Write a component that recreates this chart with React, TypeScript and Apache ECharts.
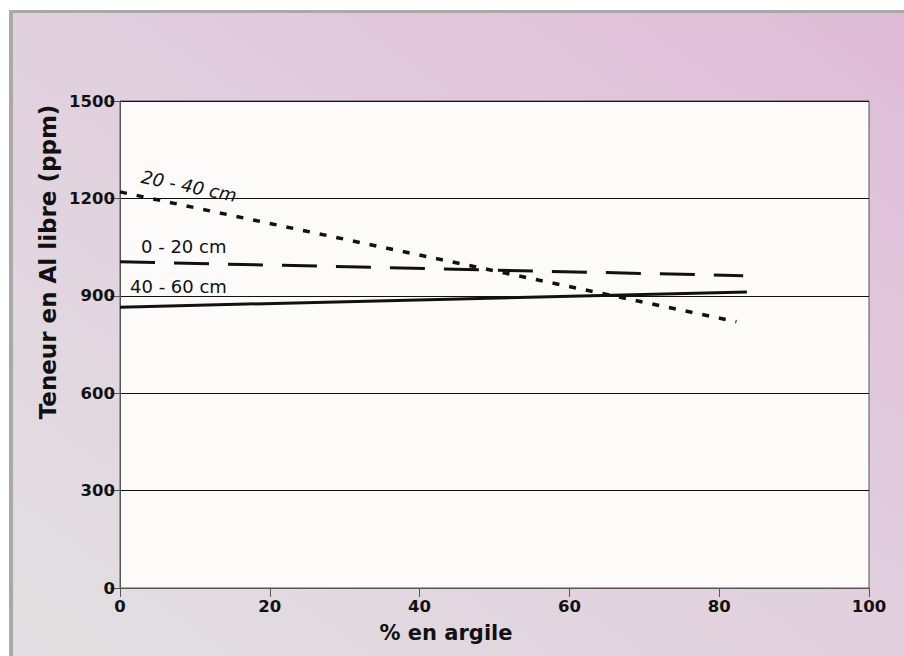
import React, { useEffect, useRef } from "react";
import * as echarts from "echarts";

const xTicks = [0, 20, 40, 60, 80, 100];
const yTicks = [0, 300, 600, 900, 1200, 1500];
const seriesNames = ["0 - 20 cm", "20 - 40 cm", "40 - 60 cm"];
const argile0_20 = [0, 83.2];
const teneur0_20 = [1005, 962];
const argile20_40 = [0, 82.3];
const teneur20_40 = [1220, 820];
const argile40_60 = [0, 83.7];
const teneur40_60 = [865, 912];

const FONT = "DejaVu Sans";

function pairs(xs: number[], ys: number[]) {
  return xs.map((x, i) => [x, ys[i]]);
}

export default function App() {
  const ref = useRef<HTMLDivElement>(null);
  useEffect(() => {
    if (!ref.current) return;
    const chart = echarts.init(ref.current, null, { renderer: "svg" });
    chart.setOption({
      animation: false,
      graphic: [
        {
          type: "rect",
          z: -10,
          shape: { x: 9, y: 10, width: 895, height: 646 },
          style: { fill: "#a9a9a9" },
          silent: true,
        },
        {
          type: "rect",
          z: -9,
          shape: { x: 13, y: 13, width: 891, height: 643 },
          style: {
            fill: new echarts.graphic.LinearGradient(0, 1, 1, 0, [
              { offset: 0, color: "#e1e0e1" },
              { offset: 0.5, color: "#e1d0de" },
              { offset: 1, color: "#dfbbd7" },
            ]),
          },
          silent: true,
        },
        {
          type: "text",
          x: 48,
          y: 262,
          rotation: Math.PI / 2,
          style: {
            text: "Teneur en Al libre (ppm)",
            font: `bold 23px "${FONT}"`,
            fill: "#111",
            align: "center",
            verticalAlign: "middle",
          },
        },
        {
          type: "text",
          x: 446,
          y: 633,
          style: {
            text: "% en argile",
            font: `bold 21px "${FONT}"`,
            fill: "#111",
            align: "center",
            verticalAlign: "middle",
          },
        },
        {
          type: "text",
          x: 189,
          y: 186,
          rotation: -0.2,
          style: {
            text: seriesNames[1],
            font: `italic 18px "${FONT}"`,
            fill: "#111",
            align: "center",
            verticalAlign: "middle",
          },
        },
        {
          type: "text",
          x: 141,
          y: 246,
          style: {
            text: seriesNames[0],
            font: `18px "${FONT}"`,
            fill: "#111",
            align: "left",
            verticalAlign: "middle",
          },
        },
        {
          type: "text",
          x: 130,
          y: 286,
          style: {
            text: seriesNames[2],
            font: `18px "${FONT}"`,
            fill: "#111",
            align: "left",
            verticalAlign: "middle",
          },
        },
      ],
      grid: {
        left: 120,
        top: 101,
        width: 749,
        height: 487,
        show: true,
        backgroundColor: "#fcfbfa",
        borderColor: "#555",
        borderWidth: 1,
      },
      xAxis: {
        type: "value",
        min: xTicks[0],
        max: xTicks[xTicks.length - 1],
        interval: 20,
        axisLine: { show: true, lineStyle: { color: "#555", width: 1 } },
        axisTick: { show: true, length: 9, lineStyle: { color: "#555" } },
        splitLine: { show: false },
        axisLabel: {
          margin: 10,
          color: "#111",
          fontFamily: FONT,
          fontWeight: "bold",
          fontSize: 16.5,
          formatter: (v: number) => String(v),
        },
      },
      yAxis: {
        type: "value",
        min: yTicks[0],
        max: yTicks[yTicks.length - 1],
        interval: 300,
        axisLine: { show: true, lineStyle: { color: "#555", width: 1 } },
        axisTick: { show: true, length: 10, lineStyle: { color: "#555" } },
        splitLine: { show: true, lineStyle: { color: "#111", width: 1 } },
        axisLabel: {
          margin: 5,
          color: "#111",
          fontFamily: FONT,
          fontWeight: "bold",
          fontSize: 16.5,
          formatter: (v: number) => String(v),
        },
      },
      series: [
        {
          name: seriesNames[0],
          type: "line",
          data: pairs(argile0_20, teneur0_20),
          showSymbol: false,
          lineStyle: { color: "#111", width: 3, type: [35, 19] },
        },
        {
          name: seriesNames[1],
          type: "line",
          data: pairs(argile20_40, teneur20_40),
          showSymbol: false,
          lineStyle: { color: "#111", width: 3.5, type: [7, 10] },
        },
        {
          name: seriesNames[2],
          type: "line",
          data: pairs(argile40_60, teneur40_60),
          showSymbol: false,
          lineStyle: { color: "#111", width: 3 },
        },
      ],
    });
    return () => chart.dispose();
  }, []);
  return (
    <div
      ref={ref}
      style={{ position: "fixed", left: 0, top: 0, width: 904, height: 656, background: "#fff" }}
    />
  );
}
